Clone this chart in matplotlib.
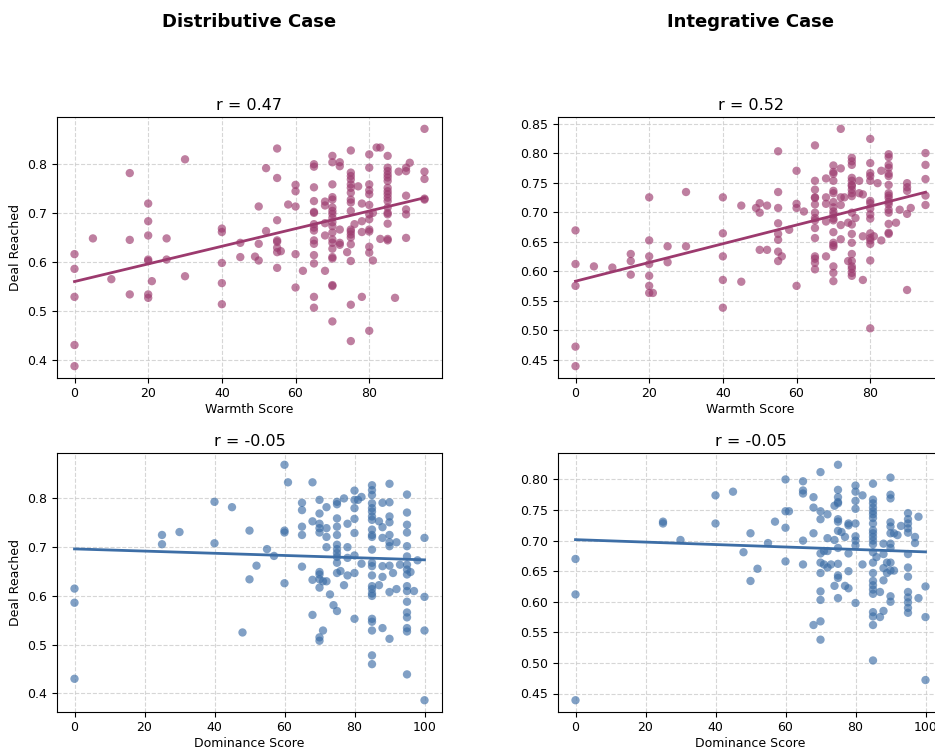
import numpy as np
import matplotlib
matplotlib.use('Agg')
import matplotlib.pyplot as plt

plt.rcParams.update({
    'font.family': 'DejaVu Sans',
    'font.size': 9,
    'axes.titlesize': 11.5,
    'axes.labelsize': 9,
    'xtick.labelsize': 9,
    'ytick.labelsize': 9,
    'xtick.major.pad': 3,
})

# ------------------------------------------------------------
# data: score columns and the "deal reached" values at each column
# ------------------------------------------------------------
dist_warmth_x = [0, 5, 10, 15, 20, 21, 25, 30, 40, 45, 49, 50, 52, 55, 56, 58, 60, 62,
                 65, 68, 70, 72, 74, 75, 76, 77, 78, 80, 81, 82, 83, 85, 87, 88, 90, 91, 95]
dist_warmth_deal = [
    [0.616, 0.586, 0.529, 0.431, 0.388], [0.648], [0.565], [0.781, 0.645, 0.534],
    [0.719, 0.683, 0.654, 0.605, 0.602, 0.534, 0.527], [0.561], [0.648, 0.605], [0.809, 0.571],
    [0.668, 0.661, 0.598, 0.557, 0.514], [0.639, 0.610], [0.611], [0.713, 0.637, 0.603],
    [0.791, 0.663], [0.831, 0.771, 0.685, 0.644, 0.641, 0.629, 0.620, 0.588], [0.622], [0.717],
    [0.757, 0.744, 0.713, 0.616, 0.548], [0.582],
    [0.799, 0.794, 0.752, 0.724, 0.702, 0.700, 0.677, 0.670, 0.664, 0.644, 0.637, 0.614, 0.597, 0.529, 0.507],
    [0.723, 0.715, 0.679, 0.654, 0.582],
    [0.816, 0.803, 0.758, 0.732, 0.727, 0.711, 0.704, 0.698, 0.690, 0.681, 0.673, 0.660, 0.646,
     0.639, 0.627, 0.610, 0.607, 0.553, 0.551, 0.479],
    [0.803, 0.795, 0.666, 0.639, 0.635], [0.620],
    [0.827, 0.782, 0.775, 0.768, 0.758, 0.751, 0.741, 0.727, 0.721, 0.704, 0.666, 0.662, 0.656,
     0.650, 0.636, 0.602, 0.513, 0.439],
    [0.677], [0.754], [0.719, 0.683, 0.661, 0.529],
    [0.819, 0.792, 0.758, 0.746, 0.738, 0.716, 0.697, 0.687, 0.666, 0.662, 0.631, 0.619, 0.460],
    [0.700, 0.603], [0.833], [0.833, 0.647],
    [0.816, 0.792, 0.785, 0.778, 0.772, 0.765, 0.751, 0.744, 0.738, 0.731, 0.724, 0.711, 0.700,
     0.697, 0.678, 0.647, 0.644],
    [0.527], [0.784], [0.792, 0.785, 0.735, 0.707, 0.697, 0.649], [0.802],
    [0.871, 0.784, 0.769, 0.729, 0.727],
]

integ_warmth_x = [0, 5, 10, 15, 20, 21, 25, 30, 40, 45, 49, 50, 52, 55, 56, 58, 60, 62,
                  65, 68, 70, 72, 73, 74, 75, 76, 77, 78, 80, 81, 82, 83, 85, 87, 88, 90, 91, 95]
integ_warmth_deal = [
    [0.669, 0.612, 0.575, 0.472, 0.439], [0.608], [0.606], [0.629, 0.617, 0.594],
    [0.725, 0.652, 0.625, 0.612, 0.592, 0.575, 0.563], [0.563], [0.642, 0.615], [0.734, 0.642],
    [0.725, 0.664, 0.625, 0.585, 0.538], [0.711, 0.582], [0.707], [0.715, 0.699, 0.636],
    [0.711, 0.636], [0.803, 0.734, 0.707, 0.681, 0.663, 0.653, 0.633, 0.617], [0.625], [0.670],
    [0.770, 0.714, 0.707, 0.575], [0.701],
    [0.813, 0.753, 0.738, 0.725, 0.724, 0.713, 0.699, 0.690, 0.686, 0.673, 0.656, 0.625, 0.621, 0.614, 0.603],
    [0.757, 0.725, 0.714, 0.684, 0.625],
    [0.779, 0.768, 0.765, 0.753, 0.736, 0.732, 0.717, 0.708, 0.701, 0.696, 0.689, 0.686, 0.666,
     0.648, 0.644, 0.641, 0.608, 0.597, 0.583],
    [0.841, 0.774, 0.725, 0.712, 0.678, 0.654], [0.725], [0.682, 0.617],
    [0.792, 0.786, 0.780, 0.758, 0.753, 0.746, 0.744, 0.738, 0.732, 0.727, 0.699, 0.679, 0.663,
     0.648, 0.629, 0.617, 0.608, 0.604, 0.597, 0.592],
    [0.690], [0.753, 0.732], [0.730, 0.659, 0.585],
    [0.824, 0.783, 0.766, 0.761, 0.753, 0.719, 0.715, 0.706, 0.696, 0.689, 0.664, 0.656, 0.652,
     0.646, 0.618, 0.503],
    [0.659], [0.749], [0.770, 0.652],
    [0.798, 0.793, 0.780, 0.775, 0.765, 0.761, 0.746, 0.732, 0.728, 0.724, 0.717, 0.713, 0.704,
     0.699, 0.680, 0.665, 0.663],
    [0.682], [0.704], [0.749, 0.742, 0.736, 0.697, 0.568], [0.707],
    [0.800, 0.780, 0.756, 0.728, 0.712],
]

dist_dom_x = [0, 25, 30, 40, 45, 48, 50, 52, 55, 57, 60, 61, 65, 68, 70, 71, 72, 73, 74, 75,
              76, 77, 78, 80, 81, 82, 85, 87, 88, 90, 91, 92, 93, 95, 96, 97, 98, 100]
dist_dom_deal = [
    [0.615, 0.586, 0.430], [0.725, 0.706], [0.731], [0.793, 0.708], [0.782], [0.525],
    [0.734, 0.634], [0.662], [0.696], [0.682], [0.869, 0.734, 0.730, 0.626], [0.833],
    [0.791, 0.776, 0.742, 0.725, 0.660], [0.833, 0.753, 0.633, 0.561],
    [0.797, 0.769, 0.748, 0.739, 0.730, 0.649, 0.644, 0.634, 0.617, 0.515, 0.508],
    [0.630, 0.529], [0.782, 0.739, 0.721, 0.700, 0.630], [0.603], [0.581],
    [0.793, 0.788, 0.759, 0.742, 0.725, 0.705, 0.696, 0.688, 0.680, 0.668, 0.647, 0.569],
    [0.651], [0.800, 0.622], [0.748, 0.700, 0.678, 0.642],
    [0.816, 0.797, 0.780, 0.758, 0.729, 0.683, 0.647, 0.553], [0.797], [0.803, 0.666],
    [0.827, 0.817, 0.807, 0.790, 0.780, 0.773, 0.763, 0.756, 0.736, 0.725, 0.721, 0.695, 0.668,
     0.661, 0.642, 0.620, 0.614, 0.605, 0.600, 0.553, 0.547, 0.529, 0.478, 0.460],
    [0.753, 0.622], [0.791, 0.741, 0.719, 0.661, 0.639, 0.534],
    [0.830, 0.792, 0.763, 0.751, 0.725, 0.710, 0.702, 0.662, 0.608, 0.512],
    [0.647], [0.710, 0.614], [0.664],
    [0.808, 0.771, 0.746, 0.730, 0.702, 0.681, 0.664, 0.654, 0.644, 0.620, 0.610, 0.588, 0.566,
     0.556, 0.534, 0.527, 0.439],
    [0.649], [0.610], [0.673], [0.719, 0.598, 0.529, 0.386],
]

integ_dom_x = [0, 25, 30, 40, 45, 48, 50, 52, 55, 57, 60, 61, 65, 68, 70, 71, 72, 73, 74, 75,
               76, 77, 78, 80, 82, 85, 86, 87, 88, 89, 90, 91, 92, 93, 95, 97, 98, 100]
integ_dom_deal = [
    [0.670, 0.612, 0.439], [0.731, 0.728], [0.701], [0.774, 0.728], [0.780], [0.681],
    [0.712, 0.634], [0.654], [0.696], [0.731], [0.800, 0.748, 0.721, 0.666], [0.748],
    [0.797, 0.782, 0.777, 0.700, 0.661], [0.771, 0.754, 0.712, 0.562],
    [0.812, 0.748, 0.735, 0.679, 0.664, 0.647, 0.617, 0.603, 0.568, 0.538],
    [0.683, 0.661], [0.743, 0.704, 0.683, 0.656], [0.661], [0.757, 0.701, 0.626],
    [0.824, 0.783, 0.771, 0.763, 0.761, 0.735, 0.731, 0.716, 0.688, 0.662, 0.643, 0.639, 0.606],
    [0.714], [0.706, 0.626], [0.728, 0.725, 0.679, 0.650, 0.622],
    [0.790, 0.780, 0.765, 0.752, 0.728, 0.707, 0.700, 0.692, 0.598], [0.774, 0.661],
    [0.793, 0.767, 0.761, 0.754, 0.748, 0.743, 0.737, 0.728, 0.717, 0.712, 0.706, 0.700, 0.694,
     0.681, 0.664, 0.647, 0.634, 0.627, 0.620, 0.613, 0.583, 0.576, 0.562, 0.504],
    [0.673], [0.616, 0.575], [0.695, 0.678, 0.655, 0.635, 0.585], [0.664, 0.647],
    [0.803, 0.775, 0.769, 0.730, 0.723, 0.712, 0.695, 0.688, 0.664, 0.651, 0.609, 0.600],
    [0.712, 0.651], [0.709], [0.724],
    [0.745, 0.735, 0.728, 0.720, 0.713, 0.678, 0.656, 0.641, 0.616, 0.607, 0.599, 0.590, 0.582],
    [0.706, 0.696], [0.739, 0.606], [0.625, 0.575, 0.472],
]

r_titles = ['r = 0.47', 'r = 0.52', 'r = -0.05', 'r = -0.05']
case_titles = ['Distributive Case', 'Integrative Case']

PURPLE = '#9c3a6e'
BLUE = '#3d6ea6'


def flatten(cols, groups):
    xs = np.concatenate([[c] * len(g) for c, g in zip(cols, groups)]).astype(float)
    ys = np.concatenate(groups).astype(float)
    return xs, ys


def draw(ax, cols, groups, color, title, xlabel, ylabel=None):
    x, y = flatten(cols, groups)
    ax.scatter(x, y, s=36, color=color, alpha=0.65, edgecolors='none', zorder=3)
    slope, icpt = np.polyfit(x, y, 1)
    xx = np.array([x.min(), x.max()])
    ax.plot(xx, icpt + slope * xx, color=color, lw=2, zorder=4)
    ax.set_title(title, pad=5)
    ax.set_xlabel(xlabel, labelpad=2)
    if ylabel:
        ax.set_ylabel(ylabel)
    ax.grid(True, linestyle='--', color='#cccccc', alpha=0.8, linewidth=0.8)
    ax.set_axisbelow(True)


W, H = 935, 750
fig = plt.figure(figsize=(W / 100, H / 100), dpi=100)


def add_ax(left, top, width, height):
    return fig.add_axes([left / W, (H - top - height) / H, width / W, height / H])


ax_tl = add_ax(57, 117, 385, 261)
ax_tr = add_ax(558, 117, 385, 261)
ax_bl = add_ax(57, 453, 385, 259)
ax_br = add_ax(558, 453, 385, 259)

draw(ax_tl, dist_warmth_x, dist_warmth_deal, PURPLE, r_titles[0], 'Warmth Score', 'Deal Reached')
draw(ax_tr, integ_warmth_x, integ_warmth_deal, PURPLE, r_titles[1], 'Warmth Score')
draw(ax_bl, dist_dom_x, dist_dom_deal, BLUE, r_titles[2], 'Dominance Score', 'Deal Reached')
draw(ax_br, integ_dom_x, integ_dom_deal, BLUE, r_titles[3], 'Dominance Score')

fig.text(249.5 / W, 1 - 22 / H, case_titles[0], ha='center', va='center',
         fontsize=13, fontweight='bold')
fig.text(750.5 / W, 1 - 22 / H, case_titles[1], ha='center', va='center',
         fontsize=13, fontweight='bold')

fig.savefig('out.png', dpi=100, facecolor='white')
